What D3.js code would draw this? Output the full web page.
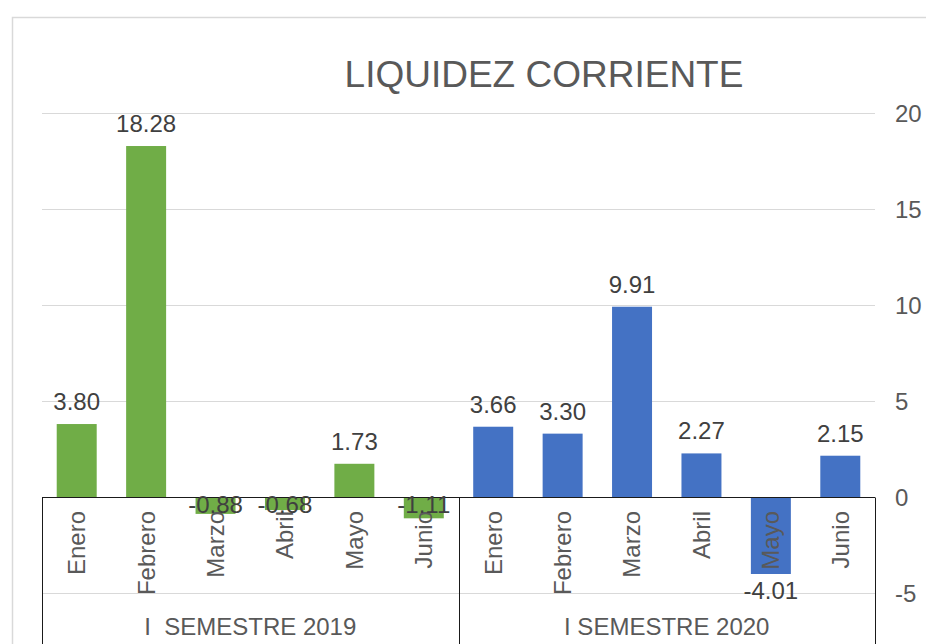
<!DOCTYPE html>
<html>
<head>
<meta charset="utf-8">
<script src="https://cdn.jsdelivr.net/npm/d3@7"></script>
<style>
  html, body { margin: 0; padding: 0; background: #fff; }
  svg { display: block; font-family: "Liberation Sans", Arial, sans-serif; }
</style>
</head>
<body>
<svg id="chart" width="926" height="644"></svg>
<script>
const title = "LIQUIDEZ CORRIENTE";
const months = ["Enero", "Febrero", "Marzo", "Abril", "Mayo", "Junio"];
const groups = ["I  SEMESTRE 2019", "I SEMESTRE 2020"];
const values2019 = [3.80, 18.28, -0.88, -0.68, 1.73, -1.11];
const values2020 = [3.66, 3.30, 9.91, 2.27, -4.01, 2.15];
const yTicks = [-5, 0, 5, 10, 15, 20];
const groupColors = ["#70AD47", "#4472C4"];

const rows = [];
[values2019, values2020].forEach((vals, g) => {
  vals.forEach((v, i) => rows.push({ key: g + "-" + i, month: months[i], group: g, value: v }));
});

const svg = d3.select("#chart");
const plotLeft = 42, plotRight = 875, plotTop = 113, plotTickBottom = 593;

// outer chart border
svg.append("rect")
  .attr("x", 12.5).attr("y", 17.5)
  .attr("width", 1000).attr("height", 800)
  .attr("fill", "none").attr("stroke", "#d9d9d9").attr("stroke-width", 1.5);

const x = d3.scaleBand()
  .domain(rows.map(d => d.key))
  .range([plotLeft, plotRight])
  .paddingInner(0.424)
  .paddingOuter(0.212);

const y = d3.scaleLinear().domain([-5, 20]).range([plotTickBottom, plotTop]);

// gridlines
svg.append("g").selectAll("line").data(yTicks).join("line")
  .attr("x1", plotLeft).attr("x2", plotRight)
  .attr("y1", d => Math.round(y(d)) + 0.5).attr("y2", d => Math.round(y(d)) + 0.5)
  .attr("stroke", "#d9d9d9").attr("stroke-width", 1);

// title
svg.append("text")
  .attr("x", 544).attr("y", 87)
  .attr("text-anchor", "middle")
  .attr("fill", "#595959")
  .attr("font-size", 37)
  .text(title);

// bars
svg.append("g").selectAll("rect").data(rows).join("rect")
  .attr("x", d => x(d.key))
  .attr("width", x.bandwidth())
  .attr("y", d => Math.min(y(d.value), y(0)))
  .attr("height", d => Math.abs(y(d.value) - y(0)))
  .attr("fill", d => groupColors[d.group]);

// right value axis
const yAxis = svg.append("g")
  .attr("transform", `translate(${plotRight + 20},0)`)
  .call(d3.axisRight(y).tickValues(yTicks).tickSize(0).tickPadding(0).tickFormat(d => String(d)));
yAxis.select(".domain").remove();
yAxis.selectAll("text")
  .attr("font-size", 24)
  .attr("fill", "#595959")
  .attr("font-family", "Liberation Sans, Arial, sans-serif")
  .attr("dy", "0.35em");

// category axis line + box
const y0 = Math.round(y(0)) + 0.5;
svg.append("line")
  .attr("x1", plotLeft).attr("x2", plotRight).attr("y1", y0).attr("y2", y0)
  .attr("stroke", "#1a1a1a").attr("stroke-width", 1);
const step = x.step();
const boundaries = [plotLeft, plotLeft + step * months.length, plotRight];
svg.append("g").selectAll("line").data(boundaries).join("line")
  .attr("x1", d => Math.round(d) + 0.5).attr("x2", d => Math.round(d) + 0.5)
  .attr("y1", y0).attr("y2", 660)
  .attr("stroke", "#1a1a1a").attr("stroke-width", 1);

// month labels (rotated)
svg.append("g").selectAll("text").data(rows).join("text")
  .attr("transform", d => `translate(${x(d.key) + x.bandwidth() / 2},${y(0) + 14}) rotate(-90)`)
  .attr("text-anchor", "end")
  .attr("dy", "0.35em")
  .attr("font-size", 24)
  .attr("fill", "#595959")
  .text(d => d.month);

// group labels
svg.append("g").selectAll("text").data(groups).join("text")
  .attr("x", (d, i) => (boundaries[i] + boundaries[i + 1]) / 2)
  .attr("y", 635)
  .attr("text-anchor", "middle")
  .attr("font-size", 24)
  .attr("fill", "#595959")
  .style("white-space", "pre")
  .text(d => d);

// data labels
svg.append("g").selectAll("text").data(rows).join("text")
  .attr("x", d => x(d.key) + x.bandwidth() / 2)
  .attr("y", d => {
    if (d.value >= 0) return y(d.value) - 14;
    if (d.value > -2) return y(0) + 16;
    return y(d.value) + 25;
  })
  .attr("text-anchor", "middle")
  .attr("font-size", 24)
  .attr("fill", "#404040")
  .text(d => d.value.toFixed(2));
</script>
</body>
</html>
